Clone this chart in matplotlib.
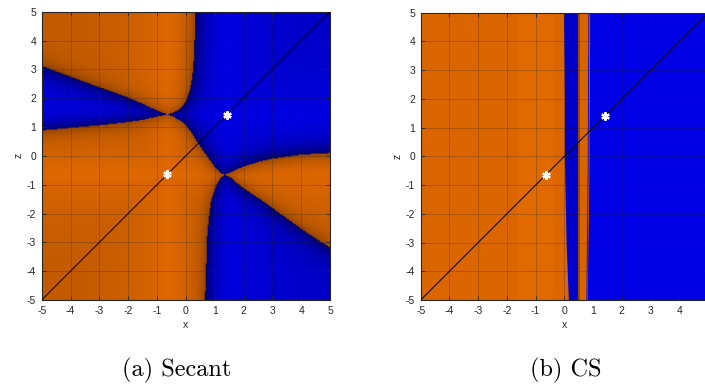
import numpy as np
import matplotlib
matplotlib.use("Agg")
import matplotlib.pyplot as plt
from matplotlib.path import Path
from matplotlib.colors import to_rgb

ORANGE = "#e06800"
BLUE = "#0000e4"

# roots of the test function (white stars)
roots = [-0.64, 1.41]

# --- (a) Secant: basin boundaries ----------------------------------------
pinch1 = (-0.66, 1.43)
pinch2 = (1.32, -0.66)

# blue band on the left: upper and lower edges (x from -5 towards pinch1)
band_x = [-5.0, -4.0, -3.0, -2.0, -1.5, -1.2, -0.9]
band_top = [3.10, 2.72, 2.36, 2.00, 1.78, 1.64, 1.51]
band_bot = [0.87, 0.96, 1.05, 1.16, 1.24, 1.30, 1.37]

# right edge of the upper-left orange basin (from pinch1 up to the top)
upper_x = [-0.50, -0.38, -0.25, -0.14, -0.04, 0.03, 0.10, 0.15, 0.20, 0.24, 0.27, 0.29, 0.31]
upper_z = [1.47, 1.53, 1.60, 1.70, 1.85, 2.00, 2.20, 2.42, 2.70, 3.10, 3.60, 4.20, 5.00]

# edge between the two pinch points
mid_x = [-0.50, -0.38, -0.09, 0.14, 0.43, 0.72, 1.01, 1.18]
mid_z = [1.36, 1.30, 1.13, 0.84, 0.38, -0.03, -0.44, -0.61]

# orange band on the right: upper and lower edges (from pinch2 to x=5)
rtop_x = [1.53, 1.99, 2.57, 2.92, 3.96, 5.00]
rtop_z = [-0.58, -0.37, -0.20, -0.12, 0.03, 0.09]
rlow_x = [1.50, 1.65, 1.88, 2.57, 3.38, 4.19, 5.00]
rlow_z = [-0.74, -0.86, -1.07, -1.53, -2.11, -2.69, -3.21]

# left edge of the lower blue basin (from pinch2 down to the bottom)
lower_x = [1.18, 1.01, 0.86, 0.78, 0.72, 0.68, 0.64]
lower_z = [-0.78, -1.07, -1.53, -2.11, -2.69, -3.84, -5.00]

# --- (b) CS: vertical stripes, edges per height -------------------------
cs_z = [5, 4, 3, 2, 1, 0, -1, -2, -3, -4, -5]
cs_edge1 = [-0.03, -0.02, -0.01, 0.0, 0.0, 0.0, 0.02, 0.04, 0.06, 0.10, 0.14]
cs_edge2 = [0.46] * 11
cs_edge3 = [0.82, 0.82, 0.81, 0.81, 0.80, 0.80, 0.79, 0.78, 0.77, 0.76, 0.75]
cs_edge4 = [0.88, 0.88, 0.87, 0.87, 0.86, 0.86, 0.85, 0.84, 0.82, 0.81, 0.80]

ticks = list(range(-5, 6))


def dense(pts, step=0.03):
    # points along a polyline, used only for the edge shading
    out = []
    for (x0, y0), (x1, y1) in zip(pts[:-1], pts[1:]):
        n = max(2, int(np.hypot(x1 - x0, y1 - y0) / step))
        t = np.linspace(0, 1, n, endpoint=False)
        out.append(np.column_stack([x0 + t * (x1 - x0), y0 + t * (y1 - y0)]))
    out.append(np.array([pts[-1]]))
    return np.vstack(out)


def min_dist(grid_pts, edge_pts):
    d = np.empty(len(grid_pts))
    for i in range(0, len(grid_pts), 4000):
        g = grid_pts[i:i + 4000]
        dd = (g[:, None, 0] - edge_pts[None, :, 0]) ** 2 + (g[:, None, 1] - edge_pts[None, :, 1]) ** 2
        d[i:i + 4000] = np.sqrt(dd.min(axis=1))
    return d


def style_axes(ax, xticks):
    ax.set_xlim(-5, 5)
    ax.set_ylim(-5, 5)
    ax.set_xticks(xticks)
    ax.set_yticks(ticks)
    ax.tick_params(direction="in", length=3, width=0.6, top=True, right=True,
                   labelsize=7.5, colors="#262626", pad=4)
    for s in ax.spines.values():
        s.set_linewidth(0.8)
        s.set_color("#262626")
    ax.grid(True, color="#262626", alpha=0.3, linewidth=0.6)
    ax.set_axisbelow(False)
    ax.set_xlabel("x", fontsize=7.5, color="#262626", labelpad=3)
    ax.set_ylabel("z", fontsize=7.5, color="#262626", labelpad=2)
    ax.plot([-5, 5], [-5, 5], color="black", lw=0.7, zorder=3)
    ax.plot(roots, roots, ls="none", marker=(6, 2, 0), ms=6, mew=1.6,
            color="white", zorder=4)
    ax.plot(roots, roots, ls="none", marker="o", ms=3, color="white", zorder=4)


plt.rcParams["font.family"] = ["Liberation Sans", "DejaVu Sans"]
plt.rcParams["axes.unicode_minus"] = False
fig = plt.figure(figsize=(7.05, 3.87), dpi=100)

# (a) Secant
regA = ([(-5, 5), (0.31, 5)] + list(zip(upper_x[::-1], upper_z[::-1])) + [pinch1]
        + list(zip(band_x[::-1], band_top[::-1])))
regB = ([(-5, -5)] + list(zip(band_x, band_bot)) + [pinch1]
        + list(zip(mid_x, mid_z)) + [pinch2] + list(zip(lower_x, lower_z)))
regC = ([pinch2] + list(zip(rtop_x, rtop_z))
        + list(zip(rlow_x[::-1], rlow_z[::-1])))
edges = [list(zip(band_x, band_top)) + [pinch1],
         list(zip(band_x, band_bot)) + [pinch1],
         [pinch1] + list(zip(upper_x, upper_z)),
         [pinch1] + list(zip(mid_x, mid_z)) + [pinch2],
         [pinch2] + list(zip(rtop_x, rtop_z)),
         [pinch2] + list(zip(rlow_x, rlow_z)),
         [pinch2] + list(zip(lower_x, lower_z))]

n = 300
g = (np.arange(n) + 0.5) / n * 10 - 5
gx, gz = np.meshgrid(g, g)
pts = np.column_stack([gx.ravel(), gz.ravel()])
is_orange = np.zeros(len(pts), bool)
for reg in (regA, regB, regC):
    is_orange |= Path(reg).contains_points(pts)
edge_pts = np.vstack([dense(e) for e in edges])
dist = min_dist(pts, edge_pts)
# darker near basin edges, brighter along the lines through the own root
edge_shade = np.where(is_orange, 1 - 0.28 * np.exp(-dist / 0.25), 1 - 0.5 * np.exp(-dist / 0.3))
own_root = np.where(is_orange, roots[0], roots[1])
rd = np.minimum(np.abs(pts[:, 0] - own_root), np.abs(pts[:, 1] - own_root))
root_shade = 0.86 + 0.14 * np.exp(-rd / 1.5)
base = np.where(is_orange[:, None], np.array(to_rgb(ORANGE)), np.array(to_rgb(BLUE)))
img = (base * (edge_shade * root_shade)[:, None]).reshape(n, n, 3)

ax1 = fig.add_axes([41.7 / 705, 87 / 387, 288.3 / 705, 288.3 / 387])
ax1.imshow(img, extent=[-5, 5, -5, 5], origin="lower", aspect="auto",
           interpolation="bilinear", zorder=0)
style_axes(ax1, ticks)

# (b) CS
ax2 = fig.add_axes([420.7 / 705, 87 / 387, 287.3 / 705, 287.3 / 387])
ax2.set_facecolor(BLUE)
ax2.fill_betweenx(cs_z, -5, cs_edge1, color="#db6600", lw=0, zorder=1)
ax2.fill_betweenx(cs_z, -1.6, -0.4, color="#e06a00", lw=0, zorder=1)
ax2.fill_betweenx(cs_z, cs_edge2, cs_edge3, color="#d86400", lw=0, zorder=1)
ax2.fill_betweenx(cs_z, [e + 0.03 for e in cs_edge3], cs_edge4, color="#d86400", lw=0, zorder=1)
ax2.fill_betweenx(cs_z, cs_edge2, [e + 0.07 for e in cs_edge2], color="#9a4800", lw=0, zorder=1)
ax2.fill_betweenx(cs_z, [e + 0.05 for e in cs_edge1], [e - 0.03 for e in cs_edge2],
                  color="#0000c8", lw=0, zorder=1)
style_axes(ax2, ticks[:-1])

fig.text(177 / 705, 1 - 370 / 387, "(a) Secant", family="cmr10", fontsize=17.5,
         ha="center", va="center")
fig.text(566 / 705, 1 - 370 / 387, "(b) CS", family="cmr10", fontsize=17.5,
         ha="center", va="center")

fig.savefig("out.png", dpi=100)
